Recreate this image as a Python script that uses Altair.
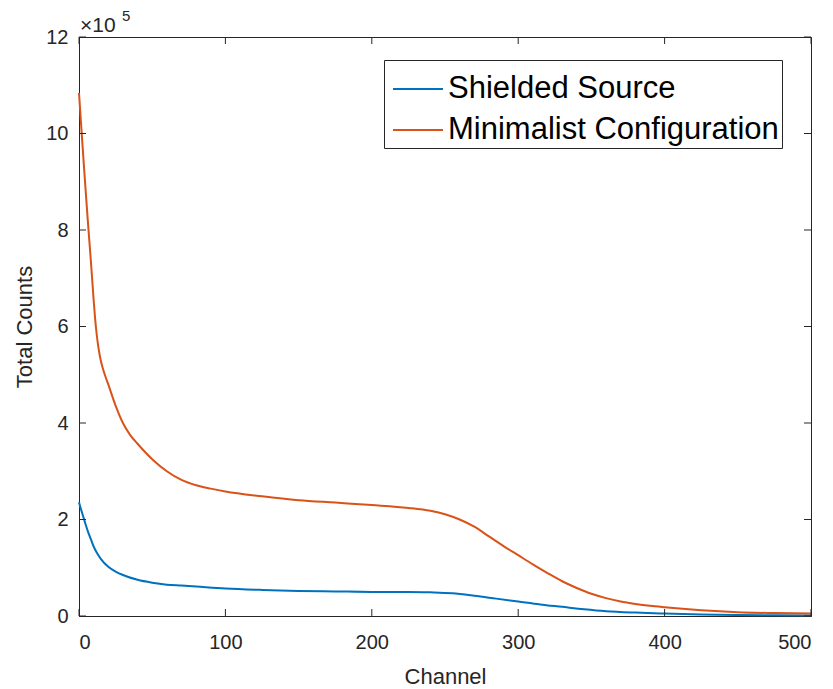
import altair as alt
import pandas as pd

# Channel positions and counts (units of 1e5)
ch_shielded = [0, 1, 2, 4, 6, 8, 10, 12, 15, 20, 25, 30, 40, 50, 60, 70, 80, 100, 125, 150,
               175, 200, 225, 240, 255, 270, 285, 300, 315, 330, 345, 360, 380, 400, 425,
               450, 475, 500]
shielded = [2.36, 2.25, 2.15, 1.95, 1.76, 1.60, 1.44, 1.32, 1.18, 1.02, 0.92, 0.85, 0.75,
            0.69, 0.65, 0.63, 0.61, 0.57, 0.54, 0.52, 0.51, 0.50, 0.50, 0.49, 0.47, 0.42,
            0.36, 0.30, 0.24, 0.19, 0.14, 0.10, 0.07, 0.05, 0.03, 0.02, 0.015, 0.01]
ch_minimalist = [0, 2, 4, 6, 8, 9, 10, 11, 12, 13, 14, 15, 16, 18, 20, 25, 30, 35, 40, 50, 60,
                 70, 80, 90, 100, 125, 150, 175, 200, 225, 240, 250, 260, 270, 280, 290, 300,
                 310, 320, 330, 340, 350, 360, 370, 380, 390, 400, 425, 450, 475, 500]
minimalist = [10.84, 9.93, 9.05, 8.20, 7.40, 6.98, 6.55, 6.17, 5.86, 5.62, 5.43, 5.28, 5.16,
              4.97, 4.80, 4.36, 4.00, 3.75, 3.57, 3.25, 3.00, 2.82, 2.71, 2.64, 2.58, 2.48,
              2.40, 2.35, 2.30, 2.24, 2.18, 2.11, 2.00, 1.85, 1.65, 1.45, 1.26, 1.07, 0.89,
              0.72, 0.58, 0.46, 0.37, 0.30, 0.25, 0.21, 0.18, 0.12, 0.08, 0.06, 0.05]
series_names = ["Shielded Source", "Minimalist Configuration"]
series_colors = ["#0072BD", "#D95319"]
y_ticks = [0, 2, 4, 6, 8, 10, 12]
x_ticks = [0, 100, 200, 300, 400, 500]

rows = []
for name, chs, vals in zip(series_names, [ch_shielded, ch_minimalist], [shielded, minimalist]):
    for c, v in zip(chs, vals):
        rows.append({"Channel": c, "Counts": v, "Series": name})
df = pd.DataFrame(rows)

AX = "#262626"
FONT = "Liberation Sans"
W, H = 732, 579

xs = alt.Scale(domain=[0, 500], nice=False, zero=False)
ys = alt.Scale(domain=[0, 12], nice=False)

lines = alt.Chart(df).mark_line(strokeWidth=2, interpolate="monotone").encode(
    x=alt.X("Channel:Q", scale=xs,
            axis=alt.Axis(values=x_ticks, title="Channel", ticks=False, tickSize=0,
                          labelPadding=32, labelBaseline="alphabetic",
                          titleY=67, titleBaseline="alphabetic")),
    y=alt.Y("Counts:Q", scale=ys,
            axis=alt.Axis(values=y_ticks, title="Total Counts", ticks=False, tickSize=0,
                          labelPadding=11, titleX=-48, titleY=H / 2,
                          titleBaseline="alphabetic")),
    color=alt.Color("Series:N", sort=series_names,
                    scale=alt.Scale(domain=series_names, range=series_colors),
                    legend=alt.Legend(title=None, orient="none", legendX=305, legendY=23,
                                      symbolType="stroke", symbolSize=2500,
                                      symbolStrokeWidth=2, symbolOffset=5,
                                      labelFontSize=31, labelLimit=0,
                                      labelFont=FONT, labelColor="#000000",
                                      labelOffset=4, padding=3, rowPadding=-6,
                                      strokeColor=AX, fillColor="#ffffff")),
)

ydf = pd.DataFrame({"v": y_ticks})
xdf = pd.DataFrame({"v": x_ticks})
tick_l = alt.Chart(ydf).mark_rule(color=AX, strokeWidth=1).encode(
    y=alt.Y("v:Q", scale=ys), x=alt.value(0), x2=alt.value(7))
tick_r = alt.Chart(ydf).mark_rule(color=AX, strokeWidth=1).encode(
    y=alt.Y("v:Q", scale=ys), x=alt.value(W - 7), x2=alt.value(W))
tick_b = alt.Chart(xdf).mark_rule(color=AX, strokeWidth=1).encode(
    x=alt.X("v:Q", scale=xs), y=alt.value(H - 7), y2=alt.value(H))
tick_t = alt.Chart(xdf).mark_rule(color=AX, strokeWidth=1).encode(
    x=alt.X("v:Q", scale=xs), y=alt.value(0), y2=alt.value(7))

exp_df = pd.DataFrame({"a": ["×10"], "b": ["5"]})
exp_base = alt.Chart(exp_df).mark_text(align="left", baseline="alphabetic", fontSize=21,
                                       font=FONT, color=AX).encode(
    x=alt.value(1), y=alt.value(-5), text="a:N")
exp_sup = alt.Chart(exp_df).mark_text(align="left", baseline="alphabetic", fontSize=15,
                                      font=FONT, color=AX).encode(
    x=alt.value(43), y=alt.value(-16), text="b:N")

chart = alt.layer(lines, tick_l, tick_r, tick_b, tick_t, exp_base, exp_sup).properties(
    width=W, height=H,
    autosize=alt.AutoSizeParams(type="none"),
    padding={"left": 79, "top": 37, "right": 22, "bottom": 73},
    background="#ffffff",
).configure_view(stroke=AX, strokeWidth=1).configure_axis(
    grid=False, domainColor=AX, labelColor=AX, titleColor=AX, labelFont=FONT,
    titleFont=FONT, labelFontSize=20, titleFontSize=22, titleFontWeight="normal",
)

chart.save("out.html", embed_options={"renderer": "svg", "actions": False})
